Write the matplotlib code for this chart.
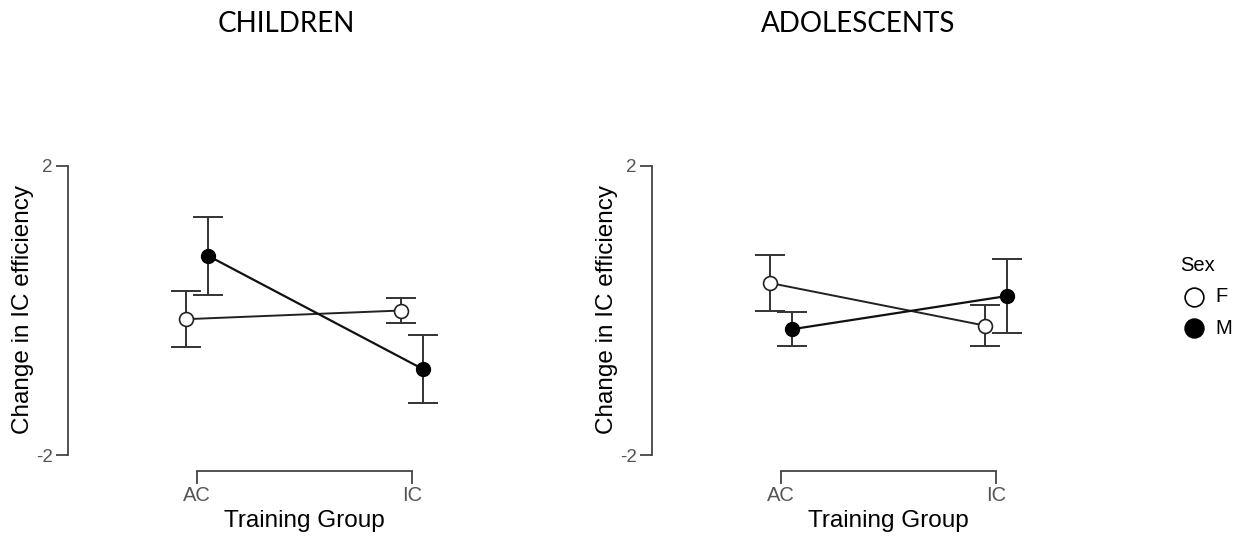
import matplotlib.pyplot as plt
from matplotlib.lines import Line2D

plt.rcParams['font.family'] = ['Liberation Sans', 'DejaVu Sans']

# data
groups = ['AC', 'IC']
panels = ['CHILDREN', 'ADOLESCENTS']
sexes = ['F', 'M']

child_f = [-0.12, 0.00]
child_f_err = [0.385, 0.175]
child_m = [0.76, -0.81]
child_m_err = [0.54, 0.475]

adol_f = [0.38, -0.21]
adol_f_err = [0.385, 0.285]
adol_m = [-0.26, 0.20]
adol_m_err = [0.235, 0.515]

data = {
    'CHILDREN': (child_f, child_f_err, child_m, child_m_err),
    'ADOLESCENTS': (adol_f, adol_f_err, adol_m, adol_m_err),
}

W, H = 1240, 538
fig = plt.figure(figsize=(12.4, 5.38), dpi=100)

grey = '#444444'
dodge = 0.05
ymin = -2 - 16 / 72.25

lefts = [68, 652]
title_x = [286, 858]
for panel, left_px, tx in zip(panels, lefts, title_x):
    f, f_err, m, m_err = data[panel]
    ax = fig.add_axes([left_px / W, (H - 471) / H, 382.7 / W, 305 / H])
    x = [0, 1]
    xf = [v - dodge for v in x]
    xm = [v + dodge for v in x]

    ax.errorbar(xf, f, yerr=f_err, fmt='none', ecolor='#333333',
                elinewidth=1.4, capsize=11, capthick=1.4, zorder=2)
    ax.errorbar(xm, m, yerr=m_err, fmt='none', ecolor='#333333',
                elinewidth=1.4, capsize=11, capthick=1.4, zorder=2)
    ax.plot(xf, f, color='#222222', lw=1.4, marker='o', ms=10,
            mfc='white', mec='#222222', mew=1.2, zorder=3)
    ax.plot(xm, m, color='#111111', lw=1.6, marker='o', ms=10,
            mfc='black', mec='black', zorder=3)

    ax.set_xlim(-0.6, 1.18)
    ax.set_ylim(ymin, 2)
    ax.spines['top'].set_visible(False)
    ax.spines['right'].set_visible(False)
    ax.spines['left'].set_bounds(-2, 2)
    ax.spines['bottom'].set_bounds(0, 1)
    for s in ['left', 'bottom']:
        ax.spines[s].set_color(grey)
        ax.spines[s].set_linewidth(1.3)
    ax.set_xticks(x)
    ax.set_xticklabels(groups, fontsize=14.5)
    ax.set_yticks([-2, 2])
    ax.set_yticklabels(['-2', '2'], fontsize=13.5)
    ax.tick_params(axis='both', colors=grey, labelcolor='#555555',
                   length=9, width=1.3, pad=2)
    ax.patch.set_visible(False)

    fig.text(tx / W, 1 - 24 / H, panel,
             family=['Lato', 'DejaVu Sans'], fontsize=20, ha='center', va='center')
    fig.text((left_px + 129 + 107.5) / W, 1 - 521 / H, 'Training Group',
             fontsize=17.5, ha='center', va='center')
    fig.text((left_px - 45) / W, 1 - 310 / H, 'Change in IC efficiency',
             fontsize=17.5, ha='center', va='center', rotation=90)

# legend, placed by hand
fig.text(1180 / W, 1 - 266 / H, 'Sex', fontsize=14.5, ha='left', va='center')
legend_y = [297, 328]
legend_fill = ['white', 'black']
for lab, ly, fc in zip(sexes, legend_y, legend_fill):
    fig.add_artist(Line2D([1194 / W], [1 - ly / H], transform=fig.transFigure,
                          ls='none', marker='o', ms=13.5, mfc=fc, mec='black', mew=1.2))
    fig.text(1215 / W, 1 - ly / H, lab, fontsize=14.5, ha='left', va='center')

fig.savefig('out.png', dpi=100, facecolor='white')
